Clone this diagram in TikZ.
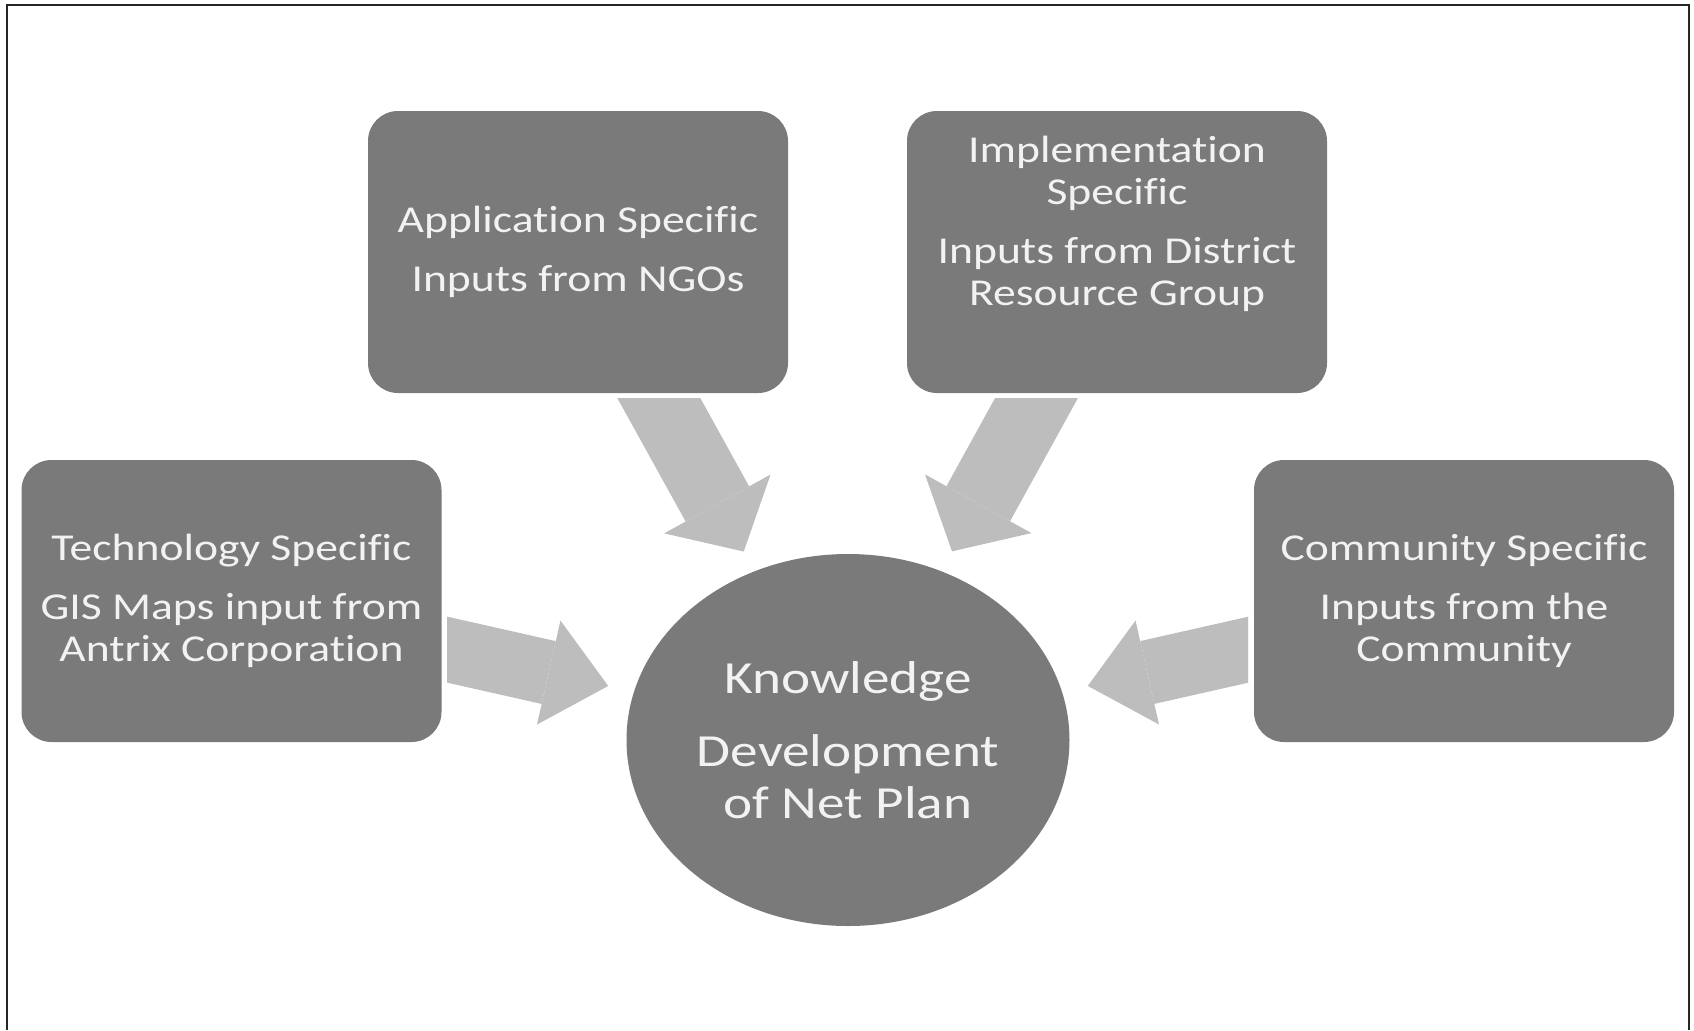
\documentclass[tikz,border=0pt]{standalone}
\usepackage{fontspec}
\setmainfont[FakeStretch=1.2, RawFeature={-liga;-clig;-dlig;-calt}]{Carlito}
\usetikzlibrary{shapes.geometric, arrows.meta}

\definecolor{boxgray}{HTML}{7A7A7A}
\definecolor{arrowgray}{HTML}{BDBDBD}
\definecolor{textwhite}{HTML}{F2F2F2}

\tikzset{
  inputbox/.style={rectangle, rounded corners=15pt, fill=boxgray, text=textwhite,
    minimum width=210pt, minimum height=141pt, inner sep=0pt, align=center,
    font=\fontsize{19}{21}\selectfont},
  plannode/.style={ellipse, fill=boxgray, text=textwhite, minimum width=221.5pt,
    minimum height=186pt, inner sep=0pt, align=center,
    font=\fontsize{23}{26}\selectfont},
  downarrow/.style={draw=arrowgray, line width=36.3pt,
    -{Triangle[length=27.2pt, width=60.8pt, line width=0pt, fill=arrowgray]},
    shorten <=60pt, shorten >=107.7pt},
  sidearrow/.style={draw=arrowgray, line width=32.2pt,
    -{Triangle[length=30.5pt, width=53.3pt, line width=0pt, fill=arrowgray]},
    shorten <=95pt, shorten >=122.9pt},
}

\begin{document}
\begin{tikzpicture}[x=0.5pt, y=-0.5pt]
\useasboundingbox (0,0) rectangle (1694,1030);
\draw[line width=1pt, black!85] (7,1030) -- (7,5) -- (1689,5) -- (1689,1030);

        % Draw the boxes
        \node[inputbox] at (578, 252)    (app)  {Application Specific\\[8.5pt]Inputs from NGOs};
        \node[inputbox] at (1117, 252)   (impl) {Implementation\\Specific\\[8.5pt]Inputs from District\\Resource Group\\[10pt]~};
        \node[inputbox] at (231.5, 601)  (tech) {Technology Specific\\[8.5pt]GIS Maps input from\\Antrix Corporation};
        \node[inputbox] at (1464, 601)   (comm) {Community Specific\\[8.5pt]Inputs from the\\Community};
        \node[plannode] at (848, 740)    (kdp)  {Knowledge\\[10.5pt]Development\\of Net Plan};

        % Connect the boxes with arrows (tails cut straight)
\begin{scope}
\clip (447, 398) rectangle (1248, 1030);
\draw[downarrow]  (app.center) -- (kdp.center);
\draw[downarrow]  (impl.center) -- (kdp.center);
\draw[sidearrow]  (tech.center) -- (kdp.center);
\draw[sidearrow]  (comm.center) -- (kdp.center);
\end{scope}
\end{tikzpicture}
\end{document}
